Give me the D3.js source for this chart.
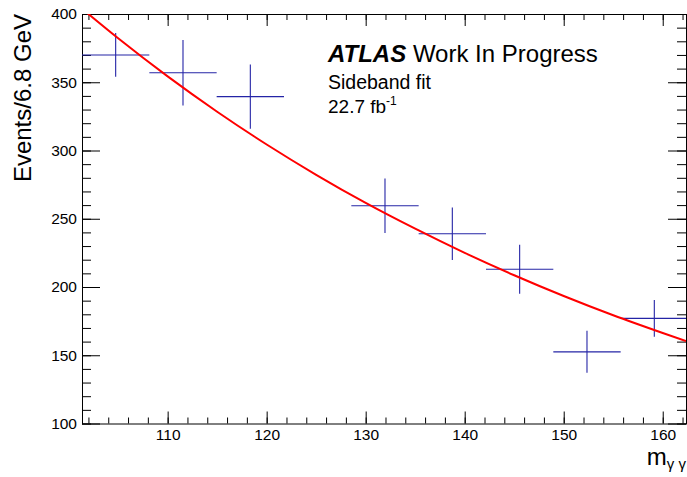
<!DOCTYPE html>
<html>
<head>
<meta charset="utf-8">
<script src="https://cdn.jsdelivr.net/npm/d3@7"></script>
<style>
  html, body { margin: 0; padding: 0; background: #fff; }
  svg { display: block; font-family: "Liberation Sans", Arial, sans-serif; }
</style>
</head>
<body>
<svg id="chart" width="687" height="477"></svg>
<script>
// Diphoton mass sideband data (bin centres in GeV, events per 6.8 GeV bin)
const binCenters = [104.75, 111.55, 118.35, 131.95, 138.75, 145.55, 152.35, 159.15];
const binWidth = 6.8;
const events = [370, 357, 339.5, 259.5, 239, 213, 152.5, 177];
const eventErrors = [16, 24, 23.5, 20, 19.3, 18, 15.4, 13.5];

// Sideband fit curve, sampled along the mass axis
const fitMass = [101.35, 105, 110, 115, 120, 125, 130, 135, 140, 145, 150, 155, 160, 162.35];
const fitEvents = [403.9, 382.2, 354.3, 328.4, 304.4, 282.2, 261.6, 242.7, 225.0, 208.6, 193.4, 179.3, 166.3, 160.4];

// Axis ticks
const xMajorTicks = [110, 120, 130, 140, 150, 160];
const xMinorTicks = d3.range(102, 163, 2);
const yMajorTicks = [100, 150, 200, 250, 300, 350, 400];
const yMinorTicks = d3.range(100, 401, 10);

const svg = d3.select("#chart");
const frame = { left: 82, right: 686, top: 14, bottom: 423.5 };

const x = d3.scaleLinear().domain([101.35, 162.35]).range([frame.left, frame.right]);
const y = d3.scaleLinear().domain([100, 400]).range([frame.bottom, frame.top]);

svg.append("rect").attr("width", 687).attr("height", 477).attr("fill", "#fff");

svg.append("clipPath").attr("id", "plotClip")
  .append("rect")
  .attr("x", frame.left).attr("y", frame.top)
  .attr("width", frame.right - frame.left).attr("height", frame.bottom - frame.top);

// Axes with ticks pointing into the frame
function styleAxis(g) {
  g.select(".domain").remove();
  g.selectAll(".tick line").attr("stroke", "#000").attr("stroke-width", 1);
  g.selectAll("text").attr("fill", "#000").style("font-size", "15.5px")
    .style("font-family", "'Liberation Sans', Arial, sans-serif");
}

// bottom
svg.append("g").attr("transform", `translate(0,${frame.bottom})`)
  .call(d3.axisBottom(x).tickValues(xMinorTicks).tickSize(-6).tickFormat(""))
  .call(styleAxis);
svg.append("g").attr("transform", `translate(0,${frame.bottom})`)
  .call(d3.axisBottom(x).tickValues(xMajorTicks).tickSize(-12).tickPadding(5).tickFormat(d3.format("d")))
  .call(styleAxis);
// top
svg.append("g").attr("transform", `translate(0,${frame.top})`)
  .call(d3.axisTop(x).tickValues(xMinorTicks).tickSize(-6).tickFormat(""))
  .call(styleAxis);
svg.append("g").attr("transform", `translate(0,${frame.top})`)
  .call(d3.axisTop(x).tickValues(xMajorTicks).tickSize(-12).tickFormat(""))
  .call(styleAxis);
// left
svg.append("g").attr("transform", `translate(${frame.left},0)`)
  .call(d3.axisLeft(y).tickValues(yMinorTicks).tickSize(-9).tickFormat(""))
  .call(styleAxis);
svg.append("g").attr("transform", `translate(${frame.left},0)`)
  .call(d3.axisLeft(y).tickValues(yMajorTicks).tickSize(-18).tickPadding(5).tickFormat(d3.format("d")))
  .call(styleAxis);
// right
svg.append("g").attr("transform", `translate(${frame.right},0)`)
  .call(d3.axisRight(y).tickValues(yMinorTicks).tickSize(-9).tickFormat(""))
  .call(styleAxis);
svg.append("g").attr("transform", `translate(${frame.right},0)`)
  .call(d3.axisRight(y).tickValues(yMajorTicks).tickSize(-18).tickFormat(""))
  .call(styleAxis);

// frame
svg.append("rect")
  .attr("x", frame.left + 0.5).attr("y", frame.top + 0.5)
  .attr("width", frame.right - frame.left).attr("height", frame.bottom - frame.top)
  .attr("fill", "none").attr("stroke", "#000").attr("stroke-width", 1);

const plot = svg.append("g").attr("clip-path", "url(#plotClip)");

// data points with bin-width and statistical error bars
const pts = binCenters.map((c, i) => ({ c, v: events[i], e: eventErrors[i] }));
const blue = "#2424a6";
plot.selectAll("line.hbar").data(pts).join("line")
  .attr("class", "hbar")
  .attr("x1", d => x(d.c - binWidth / 2)).attr("x2", d => x(d.c + binWidth / 2))
  .attr("y1", d => y(d.v)).attr("y2", d => y(d.v))
  .attr("stroke", blue).attr("stroke-width", 1.1);
plot.selectAll("line.vbar").data(pts).join("line")
  .attr("class", "vbar")
  .attr("x1", d => x(d.c)).attr("x2", d => x(d.c))
  .attr("y1", d => y(d.v - d.e)).attr("y2", d => y(d.v + d.e))
  .attr("stroke", blue).attr("stroke-width", 1.1);

// fit curve
const fitLine = d3.line().x(d => x(d[0])).y(d => y(d[1])).curve(d3.curveMonotoneX);
plot.append("path")
  .datum(fitMass.map((m, i) => [m, fitEvents[i]]))
  .attr("d", fitLine)
  .attr("fill", "none").attr("stroke", "#ff0000").attr("stroke-width", 2);

// axis titles
svg.append("text")
  .attr("transform", `translate(31,${frame.top}) rotate(-90)`)
  .attr("text-anchor", "end")
  .style("font-size", "24px")
  .text("Events/6.8 GeV");

const xt = svg.append("text")
  .attr("x", frame.right).attr("y", 465)
  .attr("text-anchor", "end")
  .style("font-size", "24px");
xt.append("tspan").text("m");
xt.append("tspan").attr("dy", 4).style("font-size", "15px").text("γ γ");

// labels
const lab = svg.append("text").attr("x", 328).attr("y", 62.3).style("font-size", "24px");
lab.append("tspan").style("font-weight", "bold").style("font-style", "italic").text("ATLAS");
lab.append("tspan").text(" Work In Progress");

svg.append("text").attr("x", 328).attr("y", 89.3).style("font-size", "19.5px").text("Sideband fit");

const lumi = svg.append("text").attr("x", 328).attr("y", 113.3).style("font-size", "19px");
lumi.append("tspan").text("22.7 fb");
lumi.append("tspan").attr("dy", -8).style("font-size", "12px").text("-1");
</script>
</body>
</html>
